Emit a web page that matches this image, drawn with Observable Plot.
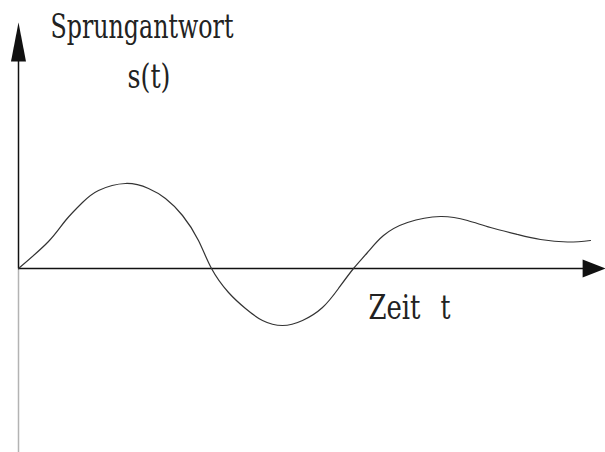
<!DOCTYPE html>
<html>
<head>
<meta charset="utf-8">
<script src="https://cdn.jsdelivr.net/npm/d3@7"></script>
<script src="https://cdn.jsdelivr.net/npm/@observablehq/plot@0.6"></script>
<style>
  html, body { margin: 0; padding: 0; background: #fff; overflow: hidden; }
  #chart svg { display: block; }
  #chart svg g[aria-label=text] text { font-family: "DejaVu Serif", "Liberation Serif", serif; }
</style>
</head>
<body>
<div id="chart"></div>
<script>
// Step response s(t): time values and response values
const time = [0, 0.511, 0.801, 1.090, 1.363, 1.823, 2.215, 2.504, 2.794, 3.066, 3.288,
  3.578, 3.867, 4.157, 4.497, 4.838, 5.179, 5.451, 5.707, 5.945, 6.218, 6.627, 7.189,
  7.649, 8.041, 8.501, 8.893, 9.353, 9.744];
const response = [0, 0.27, 0.48, 0.66, 0.78, 0.85, 0.80, 0.70, 0.53, 0.28, 0,
  -0.24, -0.40, -0.52, -0.57, -0.52, -0.39, -0.20, 0, 0.16, 0.33, 0.46, 0.52,
  0.48, 0.41, 0.34, 0.29, 0.265, 0.28];

// Axis extents (data units)
const tMax = 10, tArrowBase = 9.61;
const sTop = 2.46, sArrowBase = 2.07, sBottom = -1.84;

// Labels
const labelText = ["Sprungantwort", "s(t)", "Zeit", "t"];
const labelT = [0.545, 1.857, 5.963, 7.19];
const labelS = [2.31, 1.81, -0.50, -0.50];

const curve = time.map((t, i) => ({t, s: response[i]}));
const labels = labelText.map((text, i) => ({text, t: labelT[i], s: labelS[i]}));

const xArrowHead = [
  {t: tArrowBase, s: 0.09}, {t: tMax, s: 0}, {t: tArrowBase, s: -0.09}
];
const yArrowHead = [
  {t: -0.128, s: sArrowBase}, {t: 0, s: sTop}, {t: 0.128, s: sArrowBase}
];

const plot = Plot.plot({
  width: 605,
  height: 452,
  margin: 0,
  x: {domain: [0, tMax], range: [18, 605], axis: null},
  y: {domain: [sBottom, 2.68], range: [452, 0], axis: null},
  marks: [
    Plot.ruleX([0], {y1: sBottom, y2: 0, stroke: "#b3b3b3", strokeWidth: 1.5}),
    Plot.ruleX([0], {y1: 0, y2: sArrowBase + 0.05, stroke: "#111", strokeWidth: 1.5}),
    Plot.ruleY([0], {x1: 0, x2: tArrowBase + 0.02, stroke: "#111", strokeWidth: 1.5}),
    Plot.line(xArrowHead, {x: "t", y: "s", fill: "#111", stroke: "none"}),
    Plot.line(yArrowHead, {x: "t", y: "s", fill: "#111", stroke: "none"}),
    Plot.line(curve, {x: "t", y: "s", curve: "natural", stroke: "#333", strokeWidth: 1.2}),
    Plot.text(labels, {
      x: "t", y: "s", text: "text",
      textAnchor: "start", lineAnchor: "bottom",
      fontSize: 34, fontFamily: "DejaVu Serif",
      fill: "#222"
    })
  ]
});

// Slightly condensed lettering, as in the reference
const labelWidths = [183, 43, 52, 10];
d3.select(plot).selectAll("g[aria-label=text] text").each(function(d, i) {
  this.setAttribute("textLength", labelWidths[i]);
  this.setAttribute("lengthAdjust", "spacingAndGlyphs");
});

document.getElementById("chart").appendChild(plot);
</script>
</body>
</html>
